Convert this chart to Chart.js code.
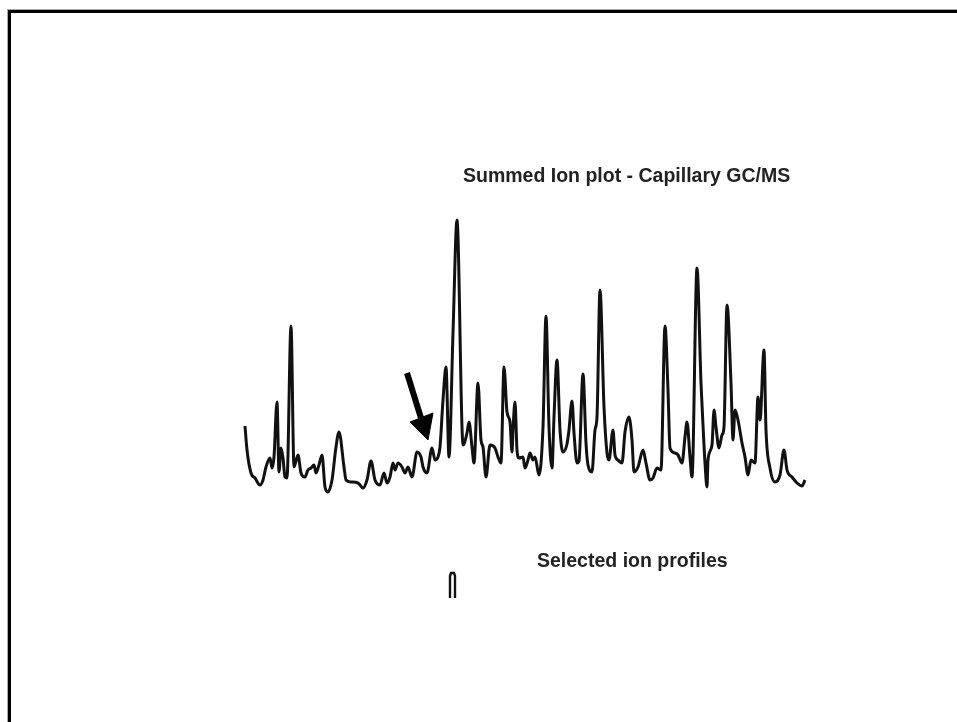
<!DOCTYPE html>
<html>
<head>
<meta charset="utf-8">
<script src="https://cdn.jsdelivr.net/npm/chart.js@4.4.1/dist/chart.umd.min.js"></script>
<style>
  html, body { margin: 0; padding: 0; background: #fff; overflow: hidden; }
  #wrap { position: relative; width: 957px; height: 722px; }
  #frame { position: absolute; left: 8px; top: 10px; width: 960px; height: 720px;
           border-left: 3px solid #000; border-top: 3px solid #000;
           box-shadow: -1px -1px 0 #aaa; }
  canvas { position: absolute; left: 0; top: 0; }
</style>
</head>
<body>
<div id="wrap">
  <div id="frame"></div>
  <canvas id="c" width="957" height="722"></canvas>
</div>
<script>
// Summed ion trace: scan position vs. relative intensity
const scanPos = [1,3,7,11,16,19,22,26,28,30,33,35,37,39,41,43,47,50,54,57,61,64,67,70,72,75,78,81,84,88,92,95,100,102,107,114,119,123,127,131,136,140,143,146,149,151,154,158,161,164,168,173,177,179,183,188,191,194,196,199,202,205,209,213,218,219,223,225,228,230,234,237,239,242,246,251,254,257,260,263,266,268,269,271,273,275,279,281,284,286,289,291,295,299,302,305,308,310,313,316,319,323,325,328,330,333,335,339,342,344,348,351,353,356,360,363,365,369,371,374,378,381,385,388,390,394,399,402,406,409,413,417,421,424,426,431,434,438,441,443,446,448,453,457,459,461,463,464,468,470,472,475,478,480,483,487,489,491,494,498,501,504,507,511,514,516,520,522,526,531,536,540,543,548,553,558,561];
const intensity = [74,50,27,22,15,20,33,42,32,43,98,28,52,42,23,22,174,33,45,27,23,30,32,35,27,35,45,13,8,20,53,68,33,20,18,17,12,20,39,20,15,27,17,23,37,30,37,33,27,33,23,48,43,33,27,52,40,43,53,100,133,43,167,280,73,55,67,78,53,37,117,60,53,23,55,52,43,37,133,88,78,48,70,98,50,42,43,32,40,47,40,43,25,73,184,73,32,83,140,70,48,56,70,99,67,37,39,126,57,35,28,70,83,210,93,47,40,70,45,40,37,68,83,60,28,33,50,37,20,22,32,30,174,110,52,47,45,37,63,78,43,23,232,117,75,37,13,40,55,90,73,52,65,73,195,117,60,90,80,57,43,25,40,37,103,80,150,70,32,18,25,50,30,23,17,14,20];

// Arrow marking the peak of interest
const arrowShaftX = [163, 177];
const arrowShaftY = [127, 82];
const arrowHeadX = [166, 189, 184, 166];
const arrowHeadY = [78, 87, 60, 78];

// Selected ion profile mark
const sipX = [206, 206, 207, 210, 211, 211];
const sipY = [-98, -76, -73, -73, -76, -98];

const titleTop = 'Summed Ion plot - Capillary GC/MS';
const titleBottom = 'Selected ion profiles';

const zip = (xs, ys) => xs.map((x, i) => ({ x: x, y: ys[i] }));

const textPlugin = {
  id: 'labels',
  afterDraw(chart) {
    const ctx = chart.ctx;
    ctx.save();
    ctx.fillStyle = '#222';
    ctx.font = 'bold 19.5px "Liberation Sans", Arial, sans-serif';
    ctx.textBaseline = 'alphabetic';
    ctx.textAlign = 'left';
    ctx.fillText(titleTop, 463, 182);
    ctx.fillText(titleBottom, 537, 567);
    ctx.restore();
  }
};

new Chart(document.getElementById('c'), {
  type: 'scatter',
  data: {
    datasets: [
      { data: zip(scanPos, intensity), showLine: true, borderColor: '#111', borderWidth: 3,
        pointRadius: 0, cubicInterpolationMode: 'monotone', borderJoinStyle: 'round', clip: false },
      { data: zip(arrowShaftX, arrowShaftY), showLine: true, borderColor: '#000', borderWidth: 6,
        pointRadius: 0, borderCapStyle: 'butt', clip: false },
      { data: zip(arrowHeadX, arrowHeadY), showLine: true, borderColor: '#000', backgroundColor: '#000',
        borderWidth: 1, pointRadius: 0, fill: 'shape', clip: false },
      { data: zip(sipX, sipY), showLine: true, borderColor: '#111', borderWidth: 2.4,
        pointRadius: 0, clip: false }
    ]
  },
  options: {
    responsive: false,
    animation: false,
    events: [],
    layout: { padding: { left: 244, right: 151, top: 200, bottom: 0 } },
    scales: {
      x: { type: 'linear', min: 0, max: 562, display: false },
      y: { type: 'linear', min: -222, max: 300, display: false }
    },
    plugins: { legend: { display: false }, tooltip: { enabled: false }, title: { display: false } }
  },
  plugins: [textPlugin]
});
</script>
</body>
</html>
